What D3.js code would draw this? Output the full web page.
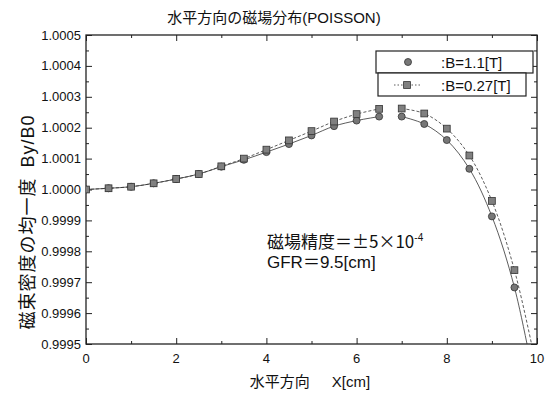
<!DOCTYPE html>
<html>
<head>
<meta charset="utf-8">
<script src="https://cdn.jsdelivr.net/npm/d3@7"></script>
<style>
body { margin: 0; background: #fff; }
text { font-family: "Liberation Sans", Arial, "Noto Sans CJK JP", sans-serif; fill: #111; }
</style>
</head>
<body>
<div class="forshow"></div>
<script>
// x positions [cm]
var xs = [0, 0.5, 1, 1.5, 2, 2.5, 3, 3.5, 4, 4.5, 5, 5.5, 6, 6.5, 7, 7.5, 8, 8.5, 9, 9.5, 10];
// By/B0 for B=1.1[T]
var b11 = [1.000000, 1.000004, 1.000009, 1.000020, 1.000034, 1.000050, 1.000074, 1.000096, 1.000121, 1.000147, 1.000175, 1.000205, 1.000223, 1.000236,
	1.000236, 1.000212, 1.000160, 1.000067, 0.999913, 0.999683, 0.999335];
// By/B0 for B=0.27[T]
var b027 = [1.000000, 1.000004, 1.000009, 1.000020, 1.000034, 1.000050, 1.000075, 1.000100, 1.000129, 1.000159, 1.000189, 1.000220, 1.000244, 1.000261,
	1.000262, 1.000246, 1.000197, 1.000110, 0.999963, 0.999739, 0.999416];
var breakAt = 14; // no line between 6.5 and 7

var xTicks = [0, 2, 4, 6, 8, 10];
var yTicks = [0.9995, 0.9996, 0.9997, 0.9998, 0.9999, 1.0000, 1.0001, 1.0002, 1.0003, 1.0004, 1.0005];
var legendLabels = [":B=1.1[T]", ":B=0.27[T]"];

var W = 546, H = 394;
var pl = 86, pr = 537, pt = 35, pb = 344;

var svg = d3.select(".forshow").append("svg")
	.attr("width", W)
	.attr("height", H);

var x = d3.scaleLinear().domain([0, 10]).range([pl, pr]);
var y = d3.scaleLinear().domain([0.9995, 1.0005]).range([pb, pt]);

svg.append("clipPath").attr("id", "clip")
	.append("rect")
	.attr("x", pl).attr("y", pt)
	.attr("width", pr - pl).attr("height", pb - pt);

// axes, ticks inside
var minorY = d3.range(0, 21).map(function(i) { return 0.9995 + i * 0.00005; });
var axB = d3.axisBottom(x).tickValues(d3.range(0, 11, 1)).tickSizeInner(-3).tickSizeOuter(0).tickFormat("");
var axT = d3.axisTop(x).tickValues(d3.range(0, 11, 1)).tickSizeInner(-3).tickSizeOuter(0).tickFormat("");
var axL = d3.axisLeft(y).tickValues(minorY).tickSizeInner(-3).tickSizeOuter(0).tickFormat("");
var axR = d3.axisRight(y).tickValues(minorY).tickSizeInner(-3).tickSizeOuter(0).tickFormat("");

function styleAxis(g) {
	g.select(".domain").remove();
	g.selectAll("line").attr("stroke", "#222").attr("stroke-width", 1);
}
var gB = svg.append("g").attr("transform", "translate(0," + pb + ")").call(axB).call(styleAxis);
var gT = svg.append("g").attr("transform", "translate(0," + pt + ")").call(axT).call(styleAxis);
var gL = svg.append("g").attr("transform", "translate(" + pl + ",0)").call(axL).call(styleAxis);
var gR = svg.append("g").attr("transform", "translate(" + pr + ",0)").call(axR).call(styleAxis);

// longer major ticks
[gB, gT].forEach(function(g, k) {
	g.selectAll(".tick").filter(function(d) { return xTicks.indexOf(d) >= 0; })
		.select("line").attr("y2", k == 0 ? -6 : 6);
});
[gL, gR].forEach(function(g, k) {
	g.selectAll(".tick").filter(function(d, i) { return i % 2 == 0; })
		.select("line").attr("x2", k == 0 ? 6 : -6);
});

svg.append("rect")
	.attr("x", pl).attr("y", pt)
	.attr("width", pr - pl).attr("height", pb - pt)
	.attr("fill", "none").attr("stroke", "#222").attr("stroke-width", 1.3);

// tick labels
svg.selectAll(".xl").data(xTicks).enter().append("text")
	.attr("x", function(d) { return x(d); })
	.attr("y", pb + 19)
	.attr("text-anchor", "middle")
	.attr("font-size", 13)
	.text(function(d) { return d; });

svg.selectAll(".yl").data(yTicks).enter().append("text")
	.attr("x", pl - 5)
	.attr("y", function(d) { return y(d) + 4.5; })
	.attr("text-anchor", "end")
	.attr("font-size", 13)
	.text(function(d) { return d.toFixed(4); });

// titles
svg.append("text").attr("x", 274).attr("y", 23).attr("text-anchor", "middle")
	.attr("font-size", 15).text("水平方向の磁場分布(POISSON)");
var xl = svg.append("text").attr("x", 310).attr("y", 387).attr("text-anchor", "middle")
	.attr("font-size", 15);
xl.append("tspan").text("水平方向");
xl.append("tspan").attr("dx", 22).text("X[cm]");
svg.append("text").attr("transform", "translate(34,222) rotate(-90)").attr("text-anchor", "middle")
	.attr("font-size", 18).attr("letter-spacing", 1).text("磁束密度の均一度\u2002By/B0");

// annotation
var note = svg.append("text").attr("x", 267).attr("y", 248).attr("font-size", 17);
note.append("tspan").text("磁場精度＝");
note.append("tspan").style("font-family", "'Noto Sans CJK JP'").text("±5×10");
note.append("tspan").attr("dy", -7).attr("font-size", 10).text("-4");
svg.append("text").attr("x", 267).attr("y", 268).attr("font-size", 17).text("GFR＝9.5[cm]");

// series
var series = [
	{ vals: b11, dash: null, shape: "circle" },
	{ vals: b027, dash: "3,2", shape: "square" }
];
var line = d3.line()
	.x(function(d) { return x(d[0]); })
	.y(function(d) { return y(d[1]); })
	.curve(d3.curveCatmullRom.alpha(0.5));

var plot = svg.append("g").attr("clip-path", "url(#clip)");

series.forEach(function(s) {
	var pts = xs.map(function(v, i) { return [v, s.vals[i]]; });
	[pts.slice(0, breakAt), pts.slice(breakAt)].forEach(function(seg) {
		plot.append("path")
			.attr("d", line(seg))
			.attr("fill", "none")
			.attr("stroke", "#333")
			.attr("stroke-width", 0.8)
			.attr("stroke-dasharray", s.dash);
	});
	if (s.shape == "circle") {
		plot.selectAll(".c").data(pts).enter().append("circle")
			.attr("cx", function(d) { return x(d[0]); })
			.attr("cy", function(d) { return y(d[1]); })
			.attr("r", 3.5)
			.attr("fill", "#777").attr("stroke", "#333").attr("stroke-width", 0.8);
	} else {
		plot.selectAll(".s").data(pts).enter().append("rect")
			.attr("x", function(d) { return x(d[0]) - 3.4; })
			.attr("y", function(d) { return y(d[1]) - 3.4; })
			.attr("width", 6.8).attr("height", 6.8)
			.attr("fill", "#808080").attr("stroke", "#333").attr("stroke-width", 0.8);
	}
});

// legend
var lg = svg.append("g");
lg.append("rect").attr("x", 376).attr("y", 51).attr("width", 157).attr("height", 22)
	.attr("fill", "#fff").attr("stroke", "#222").attr("stroke-width", 1.2);
lg.append("rect").attr("x", 378).attr("y", 73).attr("width", 148).attr("height", 23)
	.attr("fill", "#fff").attr("stroke", "#222").attr("stroke-width", 1.2);
lg.append("circle").attr("cx", 408).attr("cy", 62).attr("r", 3.5)
	.attr("fill", "#777").attr("stroke", "#333").attr("stroke-width", 0.8);
lg.append("line").attr("x1", 394).attr("x2", 420).attr("y1", 85).attr("y2", 85)
	.attr("stroke", "#333").attr("stroke-width", 0.8).attr("stroke-dasharray", "1.5,2");
lg.append("rect").attr("x", 403.6).attr("y", 81.6).attr("width", 6.8).attr("height", 6.8)
	.attr("fill", "#808080").attr("stroke", "#333").attr("stroke-width", 0.8);
lg.selectAll(".lt").data(legendLabels).enter().append("text")
	.attr("x", 441)
	.attr("y", function(d, i) { return 67.5 + i * 23; })
	.attr("font-size", 15)
	.text(function(d) { return d; });
</script>
</body>
</html>
